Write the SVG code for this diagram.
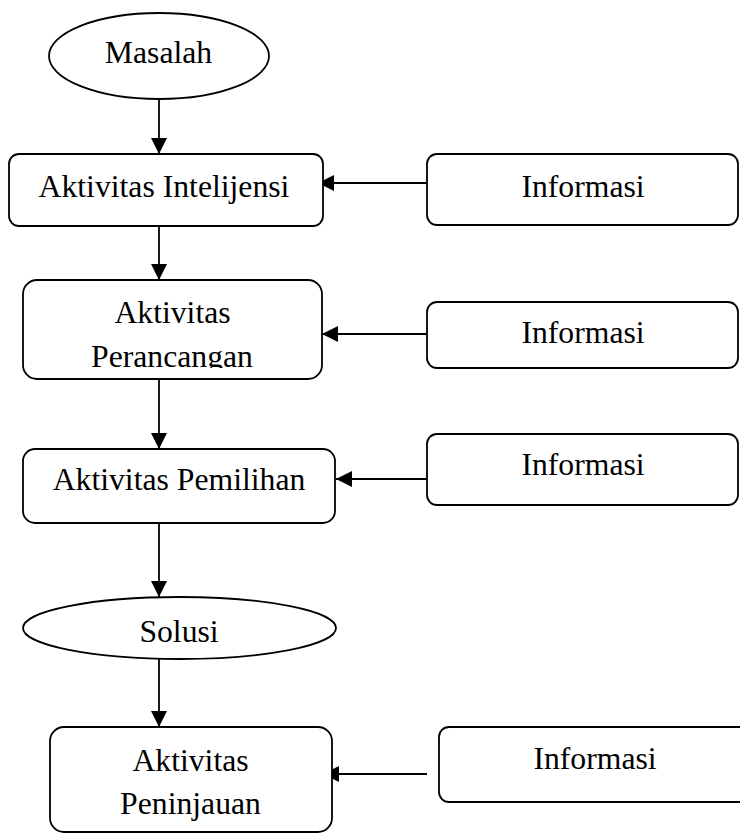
<svg xmlns="http://www.w3.org/2000/svg" width="740" height="834" viewBox="0 0 740 834">
  <style>
    .shape { fill: #fff; stroke: #000; stroke-width: 1.8; }
    .lbl { font-family: "Liberation Serif", "Times New Roman", serif; font-size: 31.7px; fill: #000; text-anchor: middle; }
    .conn { stroke: #000; stroke-width: 1.8; fill: none; }
  </style>
  <defs>
    <marker id="arrow" markerUnits="userSpaceOnUse" markerWidth="17" markerHeight="17" refX="16" refY="8" orient="auto">
      <path d="M0,0 L16,8 L0,16 z" fill="#000"/>
    </marker>
    <clipPath id="clipPer">
      <rect x="0" y="280" width="740" height="88"/>
    </clipPath>
  </defs>
  <rect width="740" height="834" fill="#fff"/>

  <g id="connectors">
    <line class="conn" x1="159" y1="99" x2="159" y2="154" marker-end="url(#arrow)"/>
    <line class="conn" x1="159" y1="226" x2="159" y2="280" marker-end="url(#arrow)"/>
    <line class="conn" x1="159" y1="379" x2="159" y2="449" marker-end="url(#arrow)"/>
    <line class="conn" x1="159" y1="523" x2="159" y2="597" marker-end="url(#arrow)"/>
    <line class="conn" x1="159" y1="659" x2="159" y2="727" marker-end="url(#arrow)"/>
    <line class="conn" x1="427" y1="183" x2="318" y2="183" marker-end="url(#arrow)"/>
    <line class="conn" x1="427" y1="334" x2="322" y2="334" marker-end="url(#arrow)"/>
    <line class="conn" x1="427" y1="479" x2="336" y2="479" marker-end="url(#arrow)"/>
    <line class="conn" x1="427" y1="774" x2="323" y2="774" marker-end="url(#arrow)"/>
  </g>

  <g id="masalah">
    <ellipse class="shape" cx="159" cy="56" rx="110" ry="43"/>
    <text class="lbl" x="158.5" y="63">Masalah</text>
  </g>
  <g id="intelijensi">
    <rect class="shape" x="9" y="154" width="314" height="72" rx="10"/>
    <text class="lbl" x="164" y="197">Aktivitas Intelijensi</text>
  </g>
  <g id="info1">
    <rect class="shape" x="427" y="154" width="311" height="71" rx="10"/>
    <text class="lbl" x="583" y="197">Informasi</text>
  </g>
  <g id="perancangan">
    <rect class="shape" x="23" y="280" width="299" height="99" rx="14"/>
    <text class="lbl" x="172.5" y="323">Aktivitas</text>
    <text class="lbl" x="172" y="367" clip-path="url(#clipPer)">Perancangan</text>
  </g>
  <g id="info2">
    <rect class="shape" x="427" y="302" width="311" height="66" rx="10"/>
    <text class="lbl" x="583" y="343">Informasi</text>
  </g>
  <g id="pemilihan">
    <rect class="shape" x="23" y="449" width="312" height="74" rx="12"/>
    <text class="lbl" x="179" y="490">Aktivitas Pemilihan</text>
  </g>
  <g id="info3">
    <rect class="shape" x="427" y="434" width="311" height="71" rx="10"/>
    <text class="lbl" x="583" y="475">Informasi</text>
  </g>
  <g id="solusi">
    <ellipse class="shape" cx="179.5" cy="628" rx="156.5" ry="31"/>
    <text class="lbl" x="179" y="642">Solusi</text>
  </g>
  <g id="peninjauan">
    <rect class="shape" x="50" y="727" width="282" height="105" rx="14"/>
    <text class="lbl" x="190.5" y="771">Aktivitas</text>
    <text class="lbl" x="190.5" y="814">Peninjauan</text>
  </g>
  <g id="info4">
    <rect class="shape" x="439" y="727" width="330" height="75" rx="10"/>
    <text class="lbl" x="595" y="769">Informasi</text>
  </g>
</svg>
